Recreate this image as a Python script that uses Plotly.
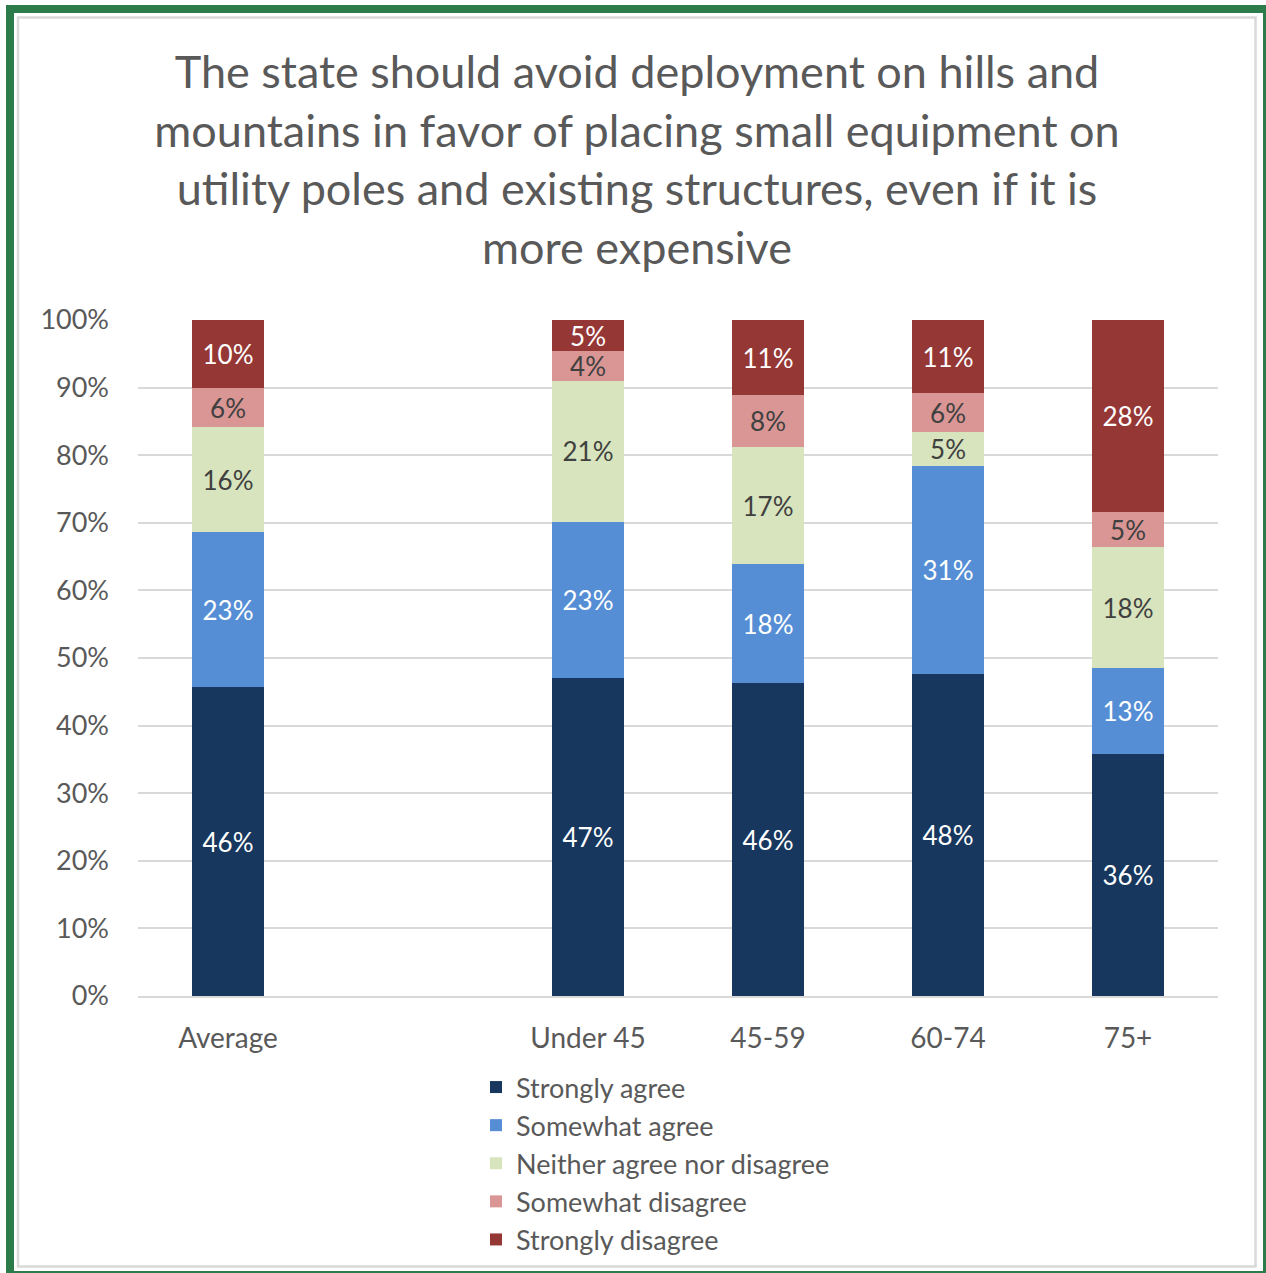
import plotly.graph_objects as go

# Response categories (x axis); the blank slot separates the average from the age groups
categories = ["Average", " ", "Under 45", "45-59", "60-74", "75+"]

series_names = [
    "Strongly agree",
    "Somewhat agree",
    "Neither agree nor disagree",
    "Somewhat disagree",
    "Strongly disagree",
]

# Shares in percent per category (None for the blank spacer slot)
strongly_agree = [45.7, None, 47.0, 46.3, 47.6, 35.8]
somewhat_agree = [22.9, None, 23.1, 17.6, 30.8, 12.7]
neither = [15.6, None, 20.9, 17.3, 5.0, 17.9]
somewhat_disagree = [5.7, None, 4.4, 7.7, 5.8, 5.2]
strongly_disagree = [10.1, None, 4.6, 11.1, 10.8, 28.4]

series_values = [strongly_agree, somewhat_agree, neither, somewhat_disagree, strongly_disagree]
series_colors = ["#17375E", "#558ED5", "#D7E4BD", "#D99694", "#953735"]
label_colors = ["#FFFFFF", "#FFFFFF", "#404040", "#404040", "#FFFFFF"]

y_ticks = [0, 10, 20, 30, 40, 50, 60, 70, 80, 90, 100]
y_tick_labels = [f"{v}%" for v in y_ticks]

title_text = (
    "The state should avoid deployment on hills and<br>"
    "mountains in favor of placing small equipment on<br>"
    "utility poles and existing structures, even if it is<br>"
    "more expensive"
)

FONT = "Lato"
GRAY = "#595959"

W, H = 1266, 1273
ML, MR, MT, MB = 138, 48, 320, 277

fig = go.Figure()
for name, vals, col, lcol in zip(series_names, series_values, series_colors, label_colors):
    fig.add_trace(
        go.Bar(
            name=name,
            x=categories,
            y=vals,
            marker=dict(color=col, line=dict(width=0)),
            texttemplate="%{y:.0f}%",
            textposition="inside",
            insidetextanchor="middle",
            textangle=0,
            textfont=dict(family=FONT, size=26, color=lcol),
            hoverinfo="skip",
        )
    )


def px_x(p):
    return (p - ML) / (W - ML - MR)


def px_y(p):
    return (H - MB - p) / (H - MT - MB)


shapes = [
    # outer green frame
    dict(type="rect", xref="paper", yref="paper",
         x0=px_x(10), x1=px_x(1267), y0=px_y(1275), y1=px_y(9),
         line=dict(color="#2B7B4B", width=8), layer="below"),
    # inner light frame
    dict(type="rect", xref="paper", yref="paper",
         x0=px_x(18), x1=px_x(1255.5), y0=px_y(1266.5), y1=px_y(17.5),
         line=dict(color="#D9D9D9", width=2.5), layer="below"),
]

fig.update_layout(
    width=W,
    height=H,
    margin=dict(l=ML, r=MR, t=MT, b=MB, autoexpand=False),
    paper_bgcolor="white",
    plot_bgcolor="white",
    barmode="stack",
    bargap=0.6,
    shapes=shapes,
    uniformtext=dict(minsize=26, mode="show"),
    title=dict(
        text=title_text,
        font=dict(family=FONT, size=45, color=GRAY),
        x=637 / W,
        xanchor="center",
        y=1 - 88 / H,
        yanchor="top",
    ),
    xaxis=dict(
        type="category",
        categoryorder="array",
        categoryarray=categories,
        showgrid=False,
        showline=True,
        linecolor="#D9D9D9",
        linewidth=2,
        ticks="",
        tickfont=dict(family=FONT, size=28, color=GRAY),
        ticklabelstandoff=16,
        automargin=False,
    ),
    yaxis=dict(
        range=[0, 100],
        tickvals=y_ticks,
        ticktext=y_tick_labels,
        showgrid=True,
        gridcolor="#D9D9D9",
        gridwidth=2,
        zeroline=False,
        showline=False,
        ticks="",
        tickfont=dict(family=FONT, size=27, color=GRAY),
        ticklabelstandoff=28,
        automargin=False,
    ),
    legend=dict(
        orientation="v",
        x=px_x(476),
        xanchor="left",
        y=px_y(1063),
        yanchor="top",
        font=dict(family=FONT, size=27, color=GRAY),
        traceorder="normal",
        itemclick=False,
        bgcolor="rgba(0,0,0,0)",
        tracegroupgap=0,
    ),
    showlegend=True,
)

fig.write_html("out.html")
